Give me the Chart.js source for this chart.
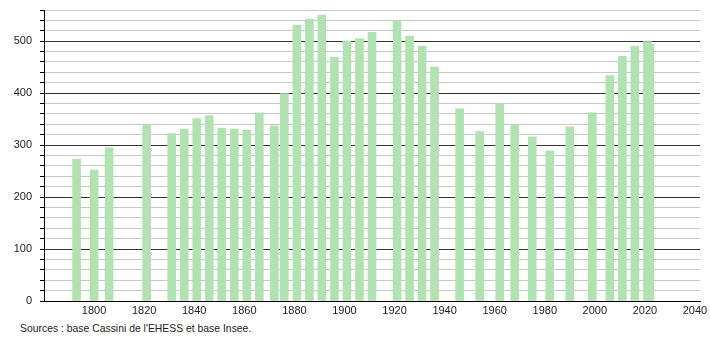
<!DOCTYPE html>
<html>
<head>
<meta charset="utf-8">
<script src="https://cdn.jsdelivr.net/npm/chart.js@4/dist/chart.umd.min.js"></script>
<style>
  body { margin: 0; background: #fff; }
  #wrap { position: relative; width: 710px; height: 340px; }
  #source { position: absolute; left: 20px; top: 323px; font: 10.4px "Liberation Sans", Arial, sans-serif; color: #222; }
</style>
</head>
<body>
<div id="wrap">
  <div style="width:710px;height:317px"><canvas id="popChart"></canvas></div>
  <div id="source">Sources : base Cassini de l'EHESS et base Insee.</div>
</div>
<script>
const years = [1793, 1800, 1806, 1821, 1831, 1836, 1841, 1846, 1851, 1856, 1861, 1866, 1872, 1876,
  1881, 1886, 1891, 1896, 1901, 1906, 1911, 1921, 1926, 1931, 1936, 1946, 1954, 1962, 1968, 1975,
  1982, 1990, 1999, 2006, 2011, 2016, 2021, 2022];
const population = [273, 252, 295, 340, 322, 331, 351, 357, 333, 331, 329, 362, 337, 399,
  531, 542, 550, 469, 500, 505, 517, 540, 510, 490, 450, 370, 326, 379, 340, 316,
  289, 335, 362, 434, 471, 490, 499, 494];
const xTicks = [1800, 1820, 1840, 1860, 1880, 1900, 1920, 1940, 1960, 1980, 2000, 2020, 2040];

const points = years.map((y, i) => ({ x: y, y: population[i] }));

new Chart(document.getElementById('popChart'), {
  type: 'bar',
  data: {
    datasets: [{
      data: points,
      backgroundColor: '#b0e3b0',
      barThickness: 8
    }]
  },
  options: {
    responsive: true,
    maintainAspectRatio: false,
    animation: false,
    layout: { padding: { top: 10, right: 10, left: 0, bottom: 0 } },
    plugins: { legend: { display: false }, tooltip: { enabled: false } },
    scales: {
      x: {
        type: 'linear',
        offset: false,
        min: 1780,
        max: 2042,
        afterBuildTicks: scale => { scale.ticks = xTicks.map(v => ({ value: v })); },
        afterFit: scale => { scale.height = 16; scale.paddingLeft = 0; scale.paddingRight = 0; },
        grid: { drawOnChartArea: false, drawTicks: false, offset: false },
        border: { color: '#000', width: 1 },
        ticks: {
          padding: 3,
          maxRotation: 0,
          autoSkip: false,
          color: '#222',
          font: { family: '"Liberation Sans", Arial, sans-serif', size: 11 },
          callback: v => String(v)
        }
      },
      y: {
        min: 0,
        max: 560,
        afterFit: scale => { scale.width = 44; scale.paddingTop = 0; scale.paddingBottom = 0; },
        grid: {
          color: ctx => (ctx.tick && ctx.tick.value % 100 === 0) ? '#333' : '#c8c8c8',
          tickColor: '#000',
          tickLength: 4
        },
        border: { color: '#000', width: 1 },
        ticks: {
          stepSize: 20,
          padding: 8,
          autoSkip: false,
          color: '#222',
          font: { family: '"Liberation Sans", Arial, sans-serif', size: 11 },
          callback: v => (v % 100 === 0 ? String(v) : '')
        }
      }
    }
  }
});
</script>
</body>
</html>
